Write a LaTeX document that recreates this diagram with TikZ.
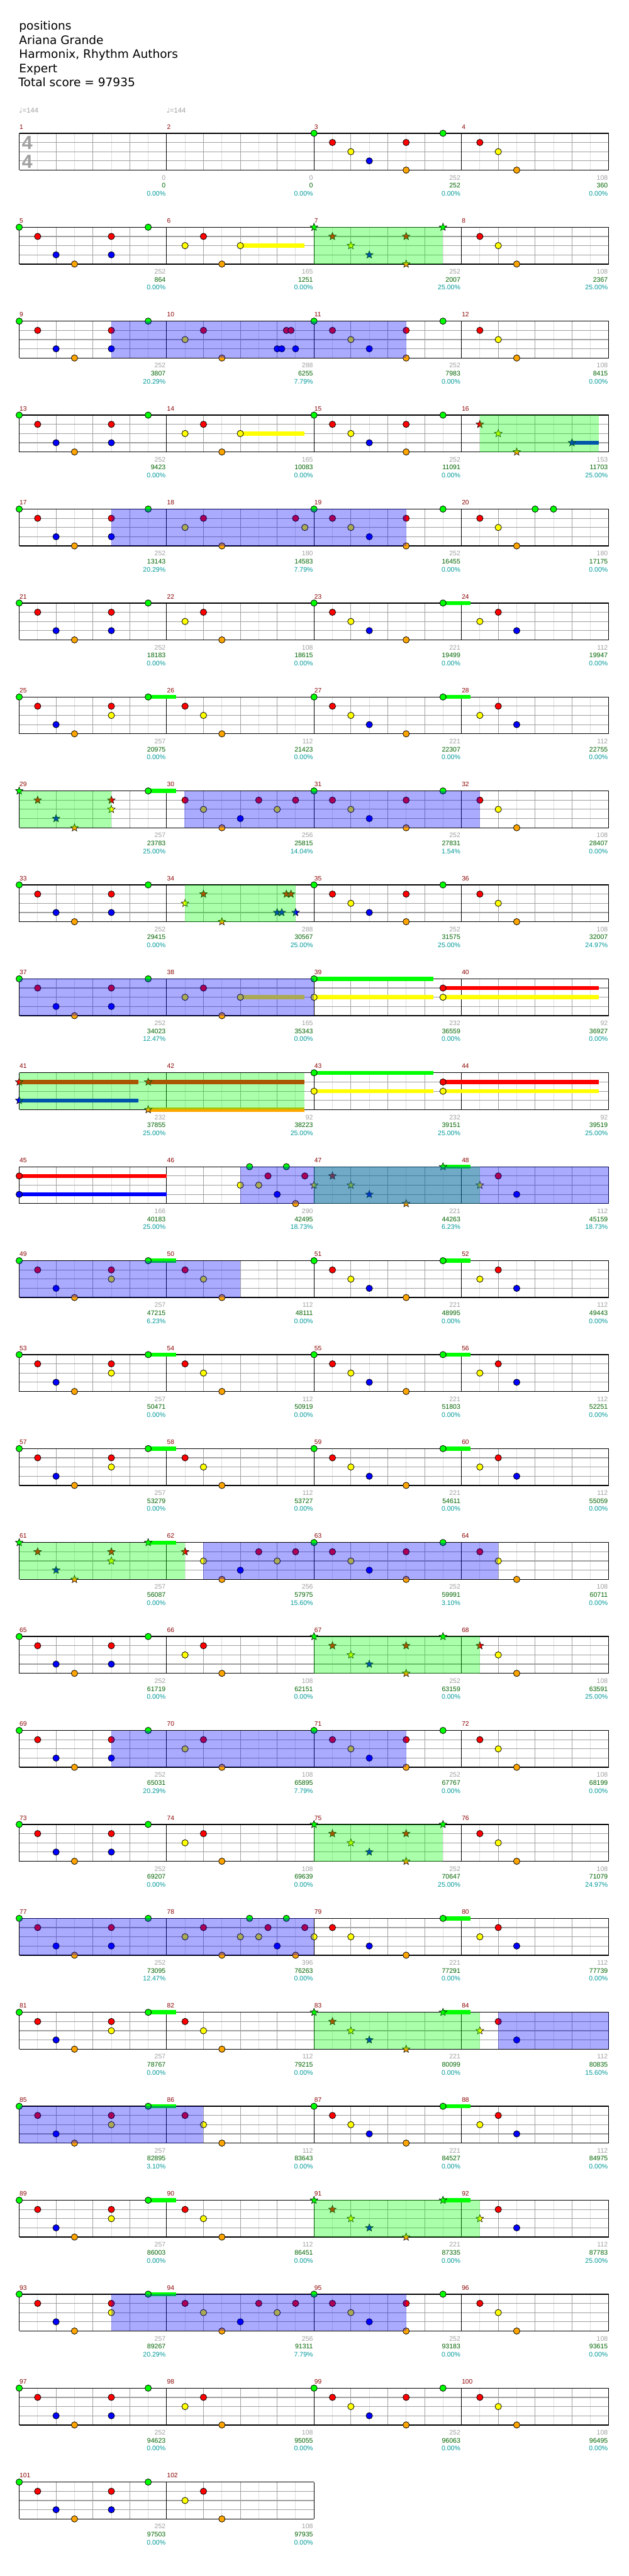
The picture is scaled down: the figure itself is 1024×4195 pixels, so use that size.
\documentclass[tikz,border=0pt]{standalone}
\usepackage{fontspec}
\setmainfont{Liberation Sans}
\newfontfamily\djv{DejaVu Sans}
\usetikzlibrary{shapes.geometric}
\definecolor{lane0}{RGB}{0,255,0}
\definecolor{lane1}{RGB}{255,0,0}
\definecolor{lane2}{RGB}{255,255,0}
\definecolor{lane3}{RGB}{0,0,255}
\definecolor{lane4}{RGB}{255,165,0}
\definecolor{mnumc}{RGB}{139,0,0}
\definecolor{greyc}{RGB}{160,160,160}
\definecolor{scorec}{RGB}{0,100,0}
\definecolor{pctc}{RGB}{0,153,153}
\definecolor{eightc}{RGB}{222,222,222}
\definecolor{quartc}{RGB}{160,160,160}
\definecolor{odc}{RGB}{0,0,255}
\definecolor{spc}{RGB}{0,255,0}
\tikzset{
 eline/.style={draw=eightc, line width=1pt},
 qline/.style={draw=quartc, line width=1pt},
 lline/.style={draw=quartc, line width=1.2pt},
 mline/.style={draw=black, line width=1pt},
 sline/.style={draw=black, line width=1.4pt},
 notec/.style={draw=black, line width=0.8pt},
 starn/.style={star, star points=5, star point ratio=2.3, minimum size=13pt, inner sep=0pt, draw=black, line width=0.6pt},
 mnum/.style={anchor=base west, inner sep=0pt, text=mnumc, font=\fontsize{10.5}{12}\selectfont},
 glab/.style={anchor=base east, inner sep=0pt, text=greyc, font=\fontsize{10.8}{12}\selectfont},
 slab/.style={anchor=base east, inner sep=0pt, text=scorec, font=\fontsize{10.8}{12}\selectfont},
 plab/.style={anchor=base east, inner sep=0pt, text=pctc, font=\fontsize{10.8}{12}\selectfont},
 titl/.style={anchor=base west, inner sep=0pt, font=\djv\fontsize{19}{23}\selectfont},
 tempo/.style={anchor=base west, inner sep=0pt, text=greyc, font=\fontsize{11.5}{13}\selectfont},
 tsig/.style={inner sep=0pt, text=greyc, font=\bfseries\fontsize{31}{31}\selectfont},
 odreg/.style={fill=odc, fill opacity=0.333},
 spreg/.style={fill=spc, fill opacity=0.333},
}
\def\patA{0/0,1/1,2/3,3/4,5/1,5/3,7/0}
\def\patAy{0/0,1/1,2/3,3/4,5/1,5/2,7/0}
\def\patB{9/2,10/1,11/4}
\def\patBy{9/1,10/2,11/4}
\def\patC{16/0,17/1,18/2,19/3,21/1,21/4,23/0}
\def\patCg{16/0,17/1,18/2,19/3,21/4,23/0}
\def\patD{25/1,26/2,27/4}
\def\patDy{25/2,26/1,27/3}
\newcommand\rowgrid[3]{%
 \pgfmathsetmacro\rowT{217+153*(#1-1)}%
 \pgfmathsetmacro\rowW{240*#2}%
 \pgfmathtruncatemacro\nE{8*#2-1}%
 \pgfmathtruncatemacro\nQ{8*#2-2}%
 \pgfmathtruncatemacro\nM{#2-1}%
 \foreach \ix in {1,3,...,\nE}{\draw[eline] (31.3+30*\ix,\rowT) -- ++(0,60);}
 \foreach \ix in {2,4,...,\nQ}{\draw[qline] (31.3+30*\ix,\rowT) -- ++(0,60);}
 \foreach \jx in {15,30,45}{\draw[lline] (31.3,\rowT+\jx) -- ++(\rowW,0);}
 \foreach \ix in {0,...,#2}{\draw[mline] (31.3+240*\ix,\rowT) -- ++(0,60);}
 \draw[sline] (31.3,\rowT) -- ++(\rowW,0);
 \draw[sline] (31.3,\rowT+60) -- ++(\rowW,0);
 \foreach \ix in {0,...,\nM}{\pgfmathtruncatemacro\mm{#3+\ix}\node[mnum] (mn\mm) at (31.8+240*\ix,\rowT-7) {\mm};}
}
\newcommand\notes[2]{%
 \pgfmathsetmacro\rowT{217+153*(#1-1)}%
 \edef\tmplist{#2}%
 \foreach \pp/\qq in \tmplist {\draw[notec, fill=lane\qq] (31.3+30*\pp,\rowT+15*\qq) circle[radius=5.2pt];}
}
\newcommand\stars[2]{%
 \pgfmathsetmacro\rowT{217+153*(#1-1)}%
 \edef\tmplist{#2}%
 \foreach \pp/\qq [count=\cc] in \tmplist {\node[starn, fill=lane\qq] (st#1-\cc) at (31.3+30*\pp,\rowT+15*\qq) {};}
}
\newcommand\sus[4]{%
 \pgfmathsetmacro\rowT{217+153*(#1-1)}%
 \fill[lane#4] (31.3+30*#2,\rowT+15*#4-3.3) rectangle (31.3+30*#3,\rowT+15*#4+3.3);
}
\newcommand\odr[3]{%
 \pgfmathsetmacro\rowT{217+153*(#1-1)}%
 \fill[odreg] (31.3+30*#2,\rowT) rectangle (31.3+30*#3,\rowT+60);
}
\newcommand\spr[3]{%
 \pgfmathsetmacro\rowT{217+153*(#1-1)}%
 \fill[spreg] (31.3+30*#2,\rowT) rectangle (31.3+30*#3,\rowT+60);
}
\newcommand\labs[2]{%
 \pgfmathsetmacro\rowT{217+153*(#1-1)}%
 \foreach \qa/\qb/\qc/\qd in {#2}{%
  \node[glab] (lg#1-\qa) at (269.8+240*\qa,\rowT+76) {\qb};
  \node[slab] (ls#1-\qa) at (269.8+240*\qa,\rowT+89) {\qc};
  \node[plab] (lp#1-\qa) at (269.8+240*\qa,\rowT+102) {\qd\%};
 }
}
\begin{document}
\begin{tikzpicture}[x=1pt,y=-1pt]
\fill[white] (0,0) rectangle (1024,4195);
\useasboundingbox (0,0) rectangle (1024,4195);
% title
\node[titl] (t1) at (31,49) {positions};
\node[titl] (t2) at (31,72) {Ariana Grande};
\node[titl] (t3) at (31,95) {Harmonix, Rhythm Authors};
\node[titl] (t4) at (31,118) {Expert};
\node[titl] (t5) at (30,141) {Total score = 97935};
\node[tempo] (tp1) at (31,184) {{\djv ♩}=144};
\node[tempo] (tp2) at (271,184) {{\djv ♩}=144};
% row 1
\rowgrid{1}{4}{1}
\node[tsig] (ts1) at (44.3,233) {4};
\node[tsig] (ts2) at (44.3,263) {4};
\notes{1}{\patC,\patD}
\labs{1}{0/0/0/0.00,1/0/0/0.00,2/252/252/0.00,3/108/360/0.00}
% row 2
\rowgrid{2}{4}{5}
\sus{2}{12}{15.47}{2}
\notes{2}{\patA,\patB,12/2,\patD}
\stars{2}{\patC}
\spr{2}{16}{23}
\labs{2}{0/252/864/0.00,1/165/1251/0.00,2/252/2007/25.00,3/108/2367/25.00}
% row 3
\rowgrid{3}{4}{9}
\notes{3}{\patA,\patB,14/3,14.25/3,14.5/1,14.75/1,15/3,\patC,\patD}
\odr{3}{5}{21}
\labs{3}{0/252/3807/20.29,1/288/6255/7.79,2/252/7983/0.00,3/108/8415/0.00}
% row 4
\rowgrid{4}{4}{13}
\sus{4}{12}{15.47}{2}
\sus{4}{30}{31.46}{3}
\notes{4}{\patA,\patB,12/2,\patC}
\stars{4}{25/1,26/2,27/4,30/3}
\spr{4}{25}{31.46}
\labs{4}{0/252/9423/0.00,1/165/10083/0.00,2/252/11091/0.00,3/153/11703/25.00}
% row 5
\rowgrid{5}{4}{17}
\notes{5}{\patA,\patB,15/1,15.5/2,\patC,\patD,28/0,29/0}
\odr{5}{5}{21}
\labs{5}{0/252/13143/20.29,1/180/14583/7.79,2/252/16455/0.00,3/180/17175/0.00}
% row 6
\rowgrid{6}{4}{21}
\sus{6}{23}{24.5}{0}
\notes{6}{\patA,\patB,\patCg,\patDy}
\labs{6}{0/252/18183/0.00,1/108/18615/0.00,2/221/19499/0.00,3/112/19947/0.00}
% row 7
\rowgrid{7}{4}{25}
\sus{7}{7}{8.5}{0}\sus{7}{23}{24.5}{0}
\notes{7}{\patAy,\patBy,\patCg,\patDy}
\labs{7}{0/257/20975/0.00,1/112/21423/0.00,2/221/22307/0.00,3/112/22755/0.00}
% row 8
\rowgrid{8}{4}{29}
\sus{8}{7}{8.5}{0}
\stars{8}{0/0,1/1,2/3,3/4,5/1,5/2}
\notes{8}{7/0,9/1,10/2,11/4,12/3,13/1,14/2,15/1,\patC,\patD}
\spr{8}{0}{5}
\odr{8}{8.96}{25}
\labs{8}{0/257/23783/25.00,1/256/25815/14.04,2/252/27831/1.54,3/108/28407/0.00}
% row 9
\rowgrid{9}{4}{33}
\notes{9}{\patA,\patC,\patD}
\stars{9}{\patB,14/3,14.25/3,14.5/1,14.75/1,15/3}
\spr{9}{9}{15}
\labs{9}{0/252/29415/0.00,1/288/30567/25.00,2/252/31575/25.00,3/108/32007/24.97}
% row 10
\rowgrid{10}{4}{37}
\sus{10}{12}{15.47}{2}
\sus{10}{16}{22.47}{0}\sus{10}{16}{22.47}{2}
\sus{10}{23}{31.46}{1}\sus{10}{23}{31.46}{2}
\notes{10}{\patA,\patB,12/2,16/0,16/2,23/1,23/2}
\odr{10}{0}{16}
\labs{10}{0/252/34023/12.47,1/165/35343/0.00,2/232/36559/0.00,3/92/36927/0.00}
% row 11
\rowgrid{11}{4}{41}
\sus{11}{0}{6.47}{1}\sus{11}{0}{6.47}{3}
\sus{11}{7}{15.47}{1}\sus{11}{7}{15.47}{4}
\sus{11}{16}{22.47}{0}\sus{11}{16}{22.47}{2}
\sus{11}{23}{31.46}{1}\sus{11}{23}{31.46}{2}
\stars{11}{0/1,0/3,7/1,7/4}
\notes{11}{16/0,16/2,23/1,23/2}
\spr{11}{0}{15.47}
\labs{11}{0/232/37855/25.00,1/92/38223/25.00,2/232/39151/25.00,3/92/39519/25.00}
% row 12
\rowgrid{12}{4}{45}
\sus{12}{0}{8}{1}\sus{12}{0}{8}{3}
\sus{12}{23}{24.5}{0}
\notes{12}{0/1,0/3,12/2,12.5/0,13/2,13.5/1,14/3,14.5/0,15/4,15.5/1,26/1,27/3}
\stars{12}{16/2,17/1,18/2,19/3,21/4,23/0,25/2}
\spr{12}{16}{25}
\odr{12}{12}{32}
\labs{12}{0/166/40183/25.00,1/290/42495/18.73,2/221/44263/6.23,3/112/45159/18.73}
% row 13
\rowgrid{13}{4}{49}
\sus{13}{7}{8.5}{0}\sus{13}{23}{24.5}{0}
\notes{13}{\patAy,\patBy,\patCg,\patDy}
\odr{13}{0}{12}
\labs{13}{0/257/47215/6.23,1/112/48111/0.00,2/221/48995/0.00,3/112/49443/0.00}
% row 14
\rowgrid{14}{4}{53}
\sus{14}{7}{8.5}{0}\sus{14}{23}{24.5}{0}
\notes{14}{\patAy,\patBy,\patCg,\patDy}
\labs{14}{0/257/50471/0.00,1/112/50919/0.00,2/221/51803/0.00,3/112/52251/0.00}
% row 15
\rowgrid{15}{4}{57}
\sus{15}{7}{8.5}{0}\sus{15}{23}{24.5}{0}
\notes{15}{\patAy,\patBy,\patCg,\patDy}
\labs{15}{0/257/53279/0.00,1/112/53727/0.00,2/221/54611/0.00,3/112/55059/0.00}
% row 16
\rowgrid{16}{4}{61}
\sus{16}{7}{8.5}{0}
\stars{16}{\patAy,9/1}
\notes{16}{10/2,11/4,12/3,13/1,14/2,15/1,\patC,\patD}
\spr{16}{0}{9}
\odr{16}{10}{26}
\labs{16}{0/257/56087/0.00,1/256/57975/15.60,2/252/59991/3.10,3/108/60711/0.00}
% row 17
\rowgrid{17}{4}{65}
\notes{17}{\patA,\patB,26/2,27/4}
\stars{17}{\patC,25/1}
\spr{17}{16}{25}
\labs{17}{0/252/61719/0.00,1/108/62151/0.00,2/252/63159/0.00,3/108/63591/25.00}
% row 18
\rowgrid{18}{4}{69}
\notes{18}{\patA,\patB,\patC,\patD}
\odr{18}{5}{21}
\labs{18}{0/252/65031/20.29,1/108/65895/7.79,2/252/67767/0.00,3/108/68199/0.00}
% row 19
\rowgrid{19}{4}{73}
\notes{19}{\patA,\patB,\patD}
\stars{19}{\patC}
\spr{19}{16}{23}
\labs{19}{0/252/69207/0.00,1/108/69639/0.00,2/252/70647/25.00,3/108/71079/24.97}
% row 20
\rowgrid{20}{4}{77}
\sus{20}{23}{24.5}{0}
\notes{20}{\patA,\patB,12/2,12.5/0,13/2,13.5/1,14/3,14.5/0,15/4,15.5/1,16/2,17/1,18/2,19/3,21/4,23/0,\patDy}
\odr{20}{0}{16}
\labs{20}{0/252/73095/12.47,1/396/76263/0.00,2/221/77291/0.00,3/112/77739/0.00}
% row 21
\rowgrid{21}{4}{81}
\sus{21}{7}{8.5}{0}\sus{21}{23}{24.5}{0}
\notes{21}{\patAy,\patBy,26/1,27/3}
\stars{21}{\patCg,25/2}
\spr{21}{16}{25}
\odr{21}{26}{32}
\labs{21}{0/257/78767/0.00,1/112/79215/0.00,2/221/80099/0.00,3/112/80835/15.60}
% row 22
\rowgrid{22}{4}{85}
\sus{22}{7}{8.5}{0}\sus{22}{23}{24.5}{0}
\notes{22}{\patAy,\patBy,\patCg,\patDy}
\odr{22}{0}{10}
\labs{22}{0/257/82895/3.10,1/112/83643/0.00,2/221/84527/0.00,3/112/84975/0.00}
% row 23
\rowgrid{23}{4}{89}
\sus{23}{7}{8.5}{0}\sus{23}{23}{24.5}{0}
\notes{23}{\patAy,\patBy,26/1,27/3}
\stars{23}{\patCg,25/2}
\spr{23}{16}{25}
\labs{23}{0/257/86003/0.00,1/112/86451/0.00,2/221/87335/0.00,3/112/87783/25.00}
% row 24
\rowgrid{24}{4}{93}
\sus{24}{7}{8.5}{0}
\notes{24}{\patAy,9/1,10/2,11/4,12/3,13/1,14/2,15/1,\patC,\patD}
\odr{24}{5}{21}
\labs{24}{0/257/89267/20.29,1/256/91311/7.79,2/252/93183/0.00,3/108/93615/0.00}
% row 25
\rowgrid{25}{4}{97}
\notes{25}{\patA,\patB,\patC,\patD}
\labs{25}{0/252/94623/0.00,1/108/95055/0.00,2/252/96063/0.00,3/108/96495/0.00}
% row 26
\rowgrid{26}{2}{101}
\notes{26}{\patA,\patB}
\labs{26}{0/252/97503/0.00,1/108/97935/0.00}
\end{tikzpicture}
\end{document}
